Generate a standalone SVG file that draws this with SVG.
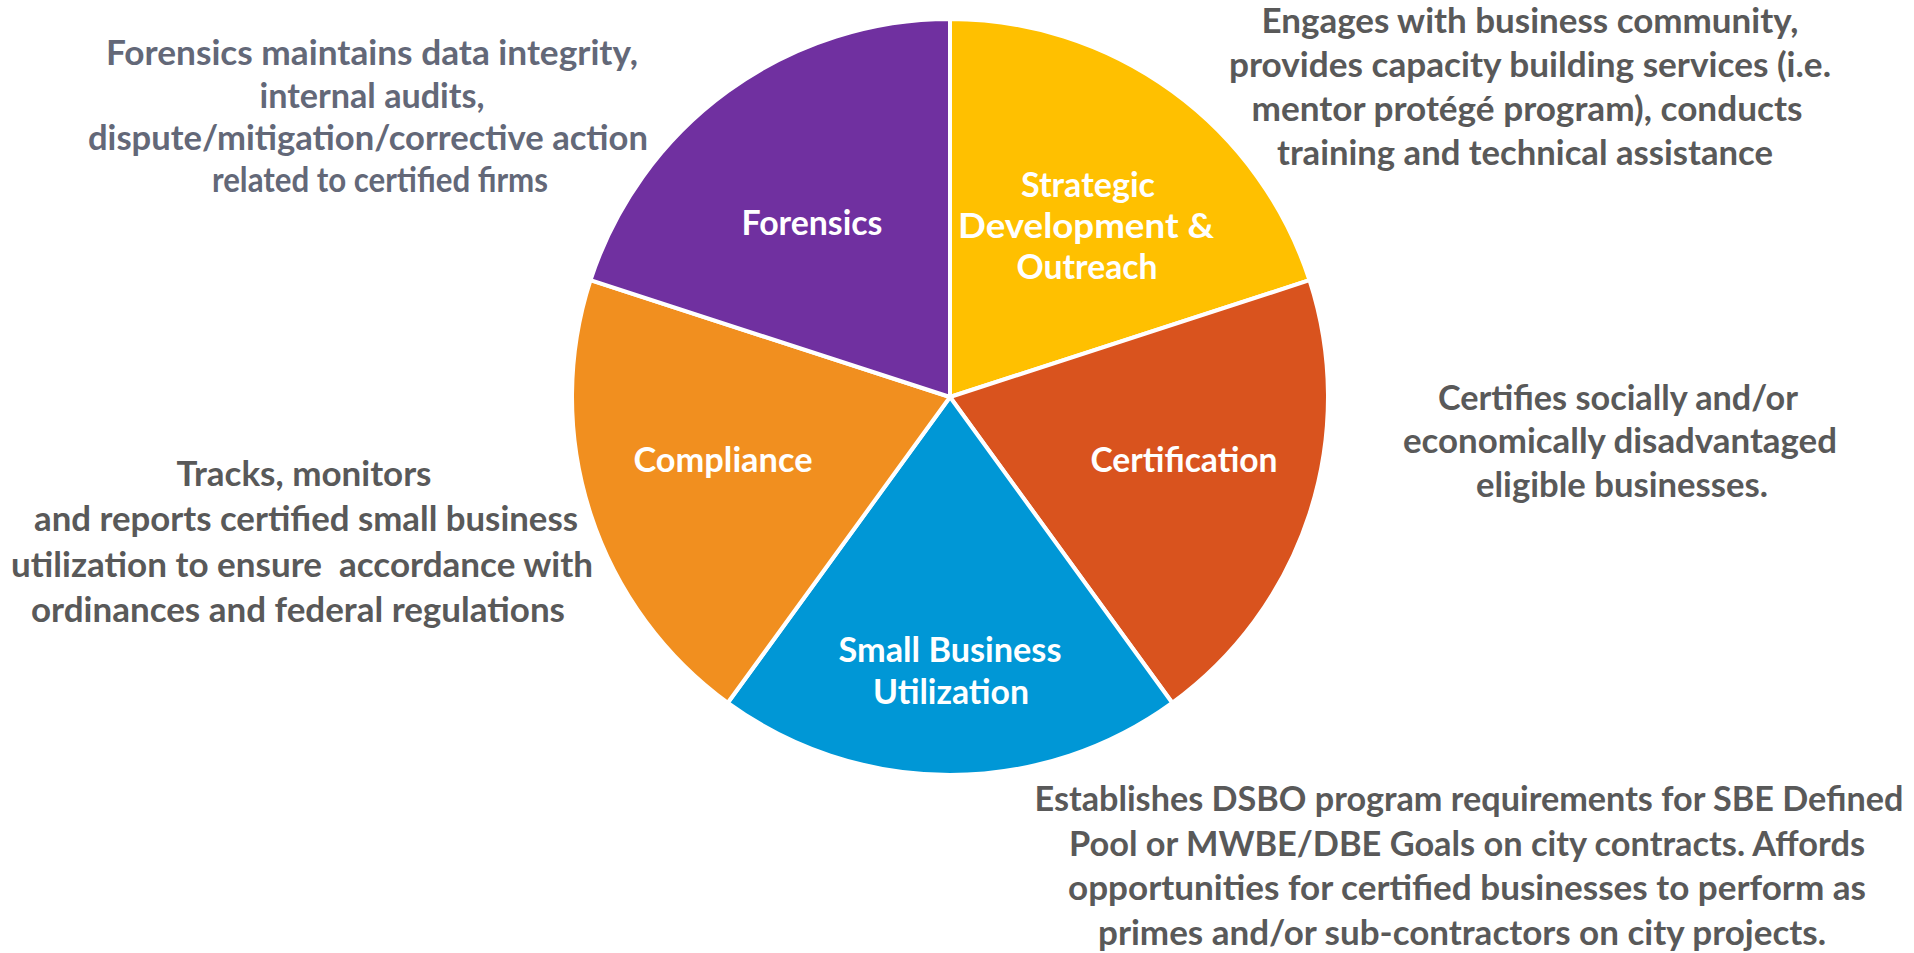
<svg xmlns="http://www.w3.org/2000/svg" width="1914" height="953" viewBox="0 0 1914 953">
  <style>
    .slice { stroke: #ffffff; stroke-width: 4; stroke-linejoin: round; }
    .label { font-family: "Lato", "Liberation Sans", sans-serif; font-weight: 700; font-size: 33.5px; fill: #ffffff; text-anchor: middle; }
    .desc { font-family: "Lato", "Liberation Sans", sans-serif; font-weight: 700; font-size: 33.5px; fill: #595959; text-anchor: middle; }
    .desc-slate { fill: #636878; }
  </style>
  <rect width="1914" height="953" fill="#ffffff"/>

  <!-- Strategic Development & Outreach -->
  <g id="strategic">
    <path class="slice" fill="#FFC000" d="M950,397 L950,19 A378,378 0 0 1 1309.5,280.2 Z"/>
    <text class="label" x="1088" y="197" textLength="134" lengthAdjust="spacingAndGlyphs">Strategic</text>
    <text class="label" x="1086" y="238" textLength="256" lengthAdjust="spacingAndGlyphs">Development &amp;</text>
    <text class="label" x="1087" y="279" textLength="141" lengthAdjust="spacingAndGlyphs">Outreach</text>
    <text class="desc" x="1530" y="33" textLength="537" lengthAdjust="spacingAndGlyphs">Engages with business community,</text>
    <text class="desc" x="1530" y="77" textLength="602" lengthAdjust="spacingAndGlyphs">provides capacity building services (i.e.</text>
    <text class="desc" x="1527" y="121" textLength="551" lengthAdjust="spacingAndGlyphs">mentor protégé program), conducts</text>
    <text class="desc" x="1525" y="165" textLength="496" lengthAdjust="spacingAndGlyphs">training and technical assistance</text>
  </g>

  <!-- Certification -->
  <g id="certification">
    <path class="slice" fill="#D9531E" d="M950,397 L1309.5,280.2 A378,378 0 0 1 1172.2,702.8 Z"/>
    <text class="label" x="1184" y="472" textLength="187" lengthAdjust="spacingAndGlyphs">Certification</text>
    <text class="desc" x="1618" y="410" textLength="360" lengthAdjust="spacingAndGlyphs">Certifies socially and/or</text>
    <text class="desc" x="1620" y="453" textLength="434" lengthAdjust="spacingAndGlyphs">economically disadvantaged</text>
    <text class="desc" x="1622" y="497" textLength="292" lengthAdjust="spacingAndGlyphs">eligible businesses.</text>
  </g>

  <!-- Small Business Utilization -->
  <g id="small-business-utilization">
    <path class="slice" fill="#0097D6" d="M950,397 L1172.2,702.8 A378,378 0 0 1 727.8,702.8 Z"/>
    <text class="label" x="950" y="662" textLength="223" lengthAdjust="spacingAndGlyphs">Small Business</text>
    <text class="label" x="951" y="704" textLength="156" lengthAdjust="spacingAndGlyphs">Utilization</text>
    <text class="desc" x="1469" y="811" textLength="869" lengthAdjust="spacingAndGlyphs">Establishes DSBO program requirements for SBE Defined</text>
    <text class="desc" x="1467" y="856" textLength="796" lengthAdjust="spacingAndGlyphs">Pool or MWBE/DBE Goals on city contracts. Affords</text>
    <text class="desc" x="1467" y="900" textLength="798" lengthAdjust="spacingAndGlyphs">opportunities for certified businesses to perform as</text>
    <text class="desc" x="1462" y="945" textLength="728" lengthAdjust="spacingAndGlyphs">primes and/or sub-contractors on city projects.</text>
  </g>

  <!-- Compliance -->
  <g id="compliance">
    <path class="slice" fill="#F18F1F" d="M950,397 L727.8,702.8 A378,378 0 0 1 590.5,280.2 Z"/>
    <text class="label" x="723" y="472" textLength="179" lengthAdjust="spacingAndGlyphs">Compliance</text>
    <text class="desc" x="304" y="486" textLength="255" lengthAdjust="spacingAndGlyphs">Tracks, monitors</text>
    <text class="desc" x="306" y="531" textLength="544" lengthAdjust="spacingAndGlyphs">and reports certified small business</text>
    <text class="desc" x="302" y="577" textLength="582" lengthAdjust="spacingAndGlyphs" xml:space="preserve">utilization to ensure  accordance with</text>
    <text class="desc" x="298" y="622" textLength="534" lengthAdjust="spacingAndGlyphs">ordinances and federal regulations</text>
  </g>

  <!-- Forensics -->
  <g id="forensics">
    <path class="slice" fill="#7030A0" d="M950,397 L590.5,280.2 A378,378 0 0 1 950,19 Z"/>
    <text class="label" x="812" y="235" textLength="141" lengthAdjust="spacingAndGlyphs">Forensics</text>
    <text class="desc desc-slate" x="372" y="65" textLength="532" lengthAdjust="spacingAndGlyphs">Forensics maintains data integrity,</text>
    <text class="desc desc-slate" x="372" y="108" textLength="225" lengthAdjust="spacingAndGlyphs">internal audits,</text>
    <text class="desc desc-slate" x="368" y="150" textLength="560" lengthAdjust="spacingAndGlyphs">dispute/mitigation/corrective action</text>
    <text class="desc desc-slate" x="380" y="192" textLength="336" lengthAdjust="spacingAndGlyphs">related to certified firms</text>
  </g>
</svg>
